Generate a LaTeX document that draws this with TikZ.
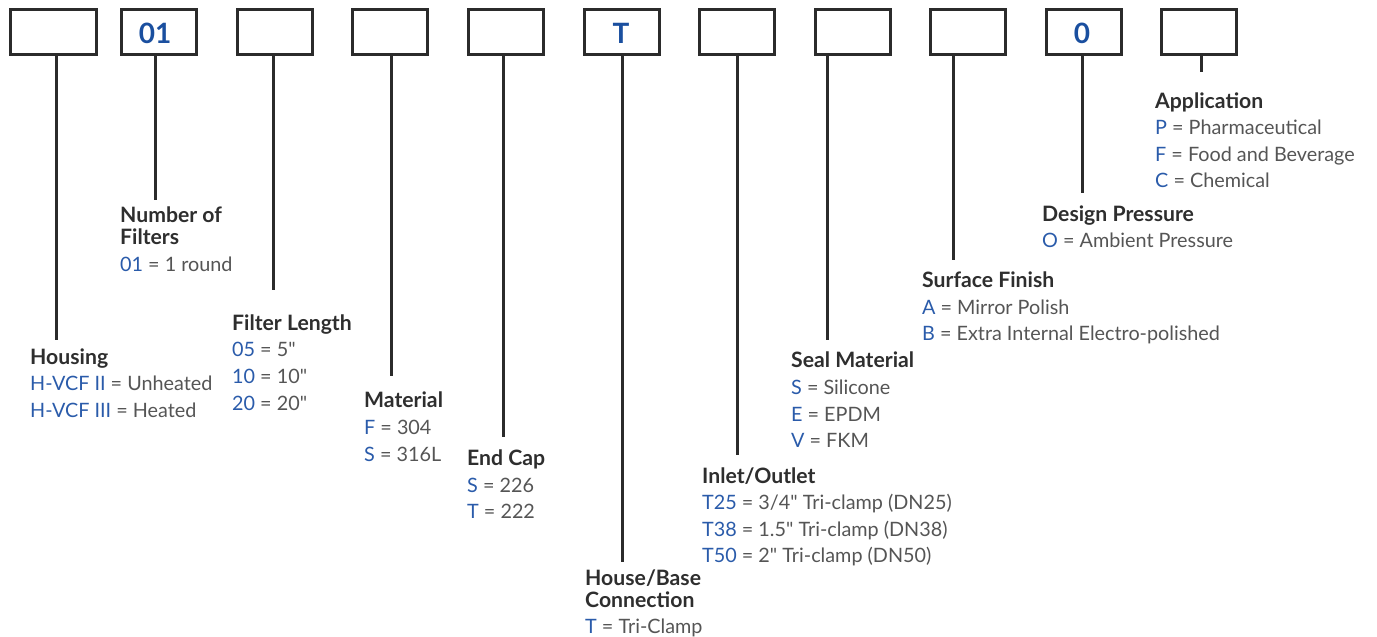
\documentclass[tikz,border=0pt]{standalone}
\usepackage{fontspec}
\setmainfont{Lato}
\definecolor{boxc}{HTML}{2B2B2B}
\definecolor{headc}{HTML}{2E2E2E}
\definecolor{valc}{HTML}{555555}
\definecolor{codec}{HTML}{2A5BAA}
\definecolor{boxtxt}{HTML}{1A4F9F}
\newcommand\cd[1]{\textcolor{codec}{#1}}
\newcommand\inch{\textquotedbl}
\begin{document}
\begin{tikzpicture}[x=1pt,y=-1pt,
  box/.style={draw=boxc,line width=3pt,minimum width=75pt,minimum height=45pt,inner sep=0pt},
  boxtext/.style={font=\bfseries\fontsize{28}{28}\selectfont,text=boxtxt,anchor=base,inner sep=0pt},
  conn/.style={draw=boxc,line width=3pt},
  hd/.style={font=\bfseries\fontsize{21.2}{22}\selectfont,text=headc,anchor=base west,inner sep=0pt},
  val/.style={font=\fontsize{19.8}{27}\selectfont,text=valc,anchor=base west,inner sep=0pt}]
\useasboundingbox (0,0) rectangle (1377,637);
% boxes
\node[box,minimum width=86pt] (b1) at (53.5,32) {};
\node[box] (b2) at (159,32) {};
\node[box] (b3) at (274.5,32) {};
\node[box] (b4) at (390,32) {};
\node[box] (b5) at (505.5,32) {};
\node[box] (b6) at (621.5,32) {};
\node[box] (b7) at (737,32) {};
\node[box] (b8) at (852.5,32) {};
\node[box] (b9) at (968,32) {};
\node[box] (b10) at (1084,32) {};
\node[box] (b11) at (1199,32) {};
\node[boxtext] (t2) at (155,43) {01};
\node[boxtext] (t6) at (621,43) {T};
\node[boxtext] (t10) at (1082,43) {0};
% connector ends
\coordinate (e1) at (56,340);
\coordinate (e2) at (155,200);
\coordinate (e3) at (273,290);
\coordinate (e4) at (391,376);
\coordinate (e5) at (503,437);
\coordinate (e6) at (622,562);
\coordinate (e7) at (737,455);
\coordinate (e8) at (827,340);
\coordinate (e9) at (953,260);
\coordinate (e10) at (1082,193);
\coordinate (e11) at (1201,72);
\foreach \i in {1,...,11}{\draw[conn] (b\i.south -| e\i) -- (e\i);}
% Housing
\node[hd] (h1) at (30,364) {Housing};
\node[val] (v1a) at (30,390) {\cd{H-VCF II} = Unheated};
\node[val] (v1b) at (30,417) {\cd{H-VCF III} = Heated};
% Number of filters
\node[hd] (h2a) at (120,222) {Number of};
\node[hd] (h2b) at (120,244) {Filters};
\node[val] (v2a) at (120,271) {\cd{01} = 1 round};
% Filter length
\node[hd] (h3) at (232,330) {Filter Length};
\node[val] (v3a) at (232,356) {\cd{05} = 5\inch};
\node[val] (v3b) at (232,383) {\cd{10} = 10\inch};
\node[val] (v3c) at (232,410) {\cd{20} = 20\inch};
% Material
\node[hd] (h4) at (364,407) {Material};
\node[val] (v4a) at (364,434) {\cd{F} = 304};
\node[val] (v4b) at (364,461) {\cd{S} = 316L};
% End cap
\node[hd] (h5) at (467,465) {End Cap};
\node[val] (v5a) at (467,492) {\cd{S} = 226};
\node[val] (v5b) at (467,518) {\cd{T} = 222};
% House/Base connection
\node[hd] (h6a) at (585,585) {House/Base};
\node[hd] (h6b) at (585,607) {Connection};
\node[val] (v6a) at (585,633) {\cd{T} = Tri-Clamp};
% Inlet/Outlet
\node[hd] (h7) at (702,483) {Inlet/Outlet};
\node[val] (v7a) at (702,509) {\cd{T25} = 3/4\inch{} Tri-clamp (DN25)};
\node[val] (v7b) at (702,536) {\cd{T38} = 1.5\inch{} Tri-clamp (DN38)};
\node[val] (v7c) at (702,562) {\cd{T50} = 2\inch{} Tri-clamp (DN50)};
% Seal material
\node[hd] (h8) at (791,367) {Seal Material};
\node[val] (v8a) at (791,394) {\cd{S} = Silicone};
\node[val] (v8b) at (791,421) {\cd{E} = EPDM};
\node[val] (v8c) at (791,447) {\cd{V} = FKM};
% Surface finish
\node[hd] (h9) at (922,287) {Surface Finish};
\node[val] (v9a) at (922,314) {\cd{A} = Mirror Polish};
\node[val] (v9b) at (922,340) {\cd{B} = Extra Internal Electro-polished};
% Design pressure
\node[hd] (h10) at (1042,221) {Design Pressure};
\node[val] (v10a) at (1042,247) {\cd{O} = Ambient Pressure};
% Application
\node[hd] (h11) at (1155,108) {Application};
\node[val] (v11a) at (1155,134) {\cd{P} = Pharmaceutical};
\node[val] (v11b) at (1155,161) {\cd{F} = Food and Beverage};
\node[val] (v11c) at (1155,187) {\cd{C} = Chemical};
\end{tikzpicture}
\end{document}
